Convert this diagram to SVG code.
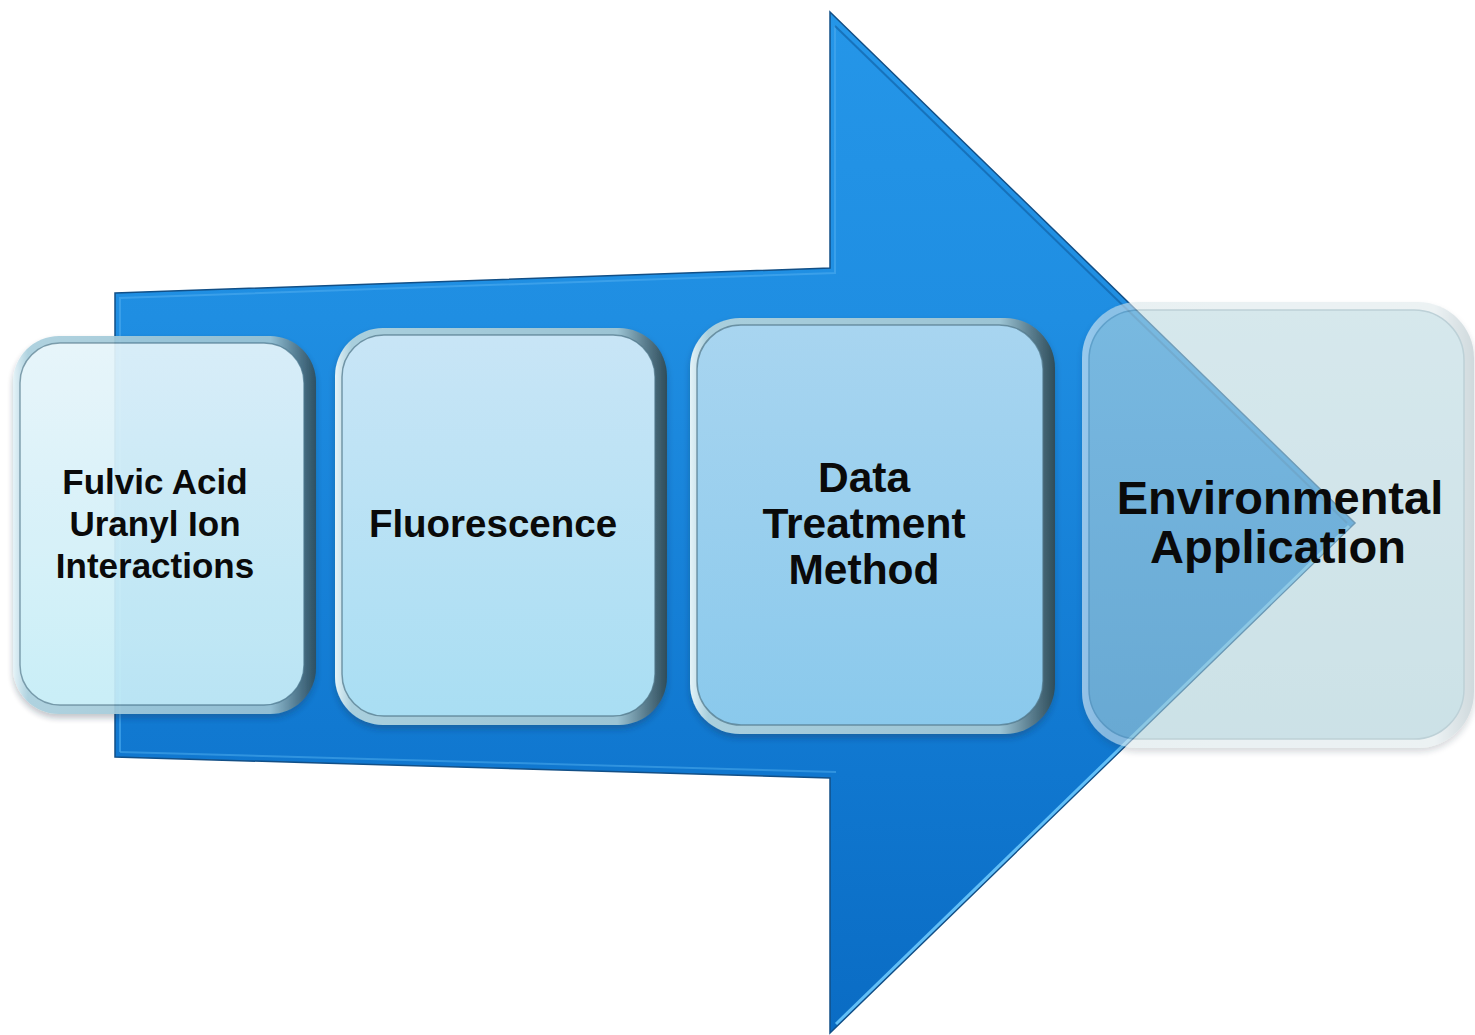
<svg xmlns="http://www.w3.org/2000/svg" width="1475" height="1035" viewBox="0 0 1475 1035">
  <defs>
    <style>
      .label { font-family: "Liberation Sans", Arial, sans-serif; font-weight: bold; fill: #0a0a0a; text-anchor: middle; }
    </style>
    <!-- big process arrow -->
    <linearGradient id="arrowFill" gradientUnits="userSpaceOnUse" x1="0" y1="12" x2="0" y2="1033">
      <stop offset="0" stop-color="#2596e8"/>
      <stop offset="0.3" stop-color="#1f8ee2"/>
      <stop offset="0.7" stop-color="#1179d1"/>
      <stop offset="1" stop-color="#0a6cc4"/>
    </linearGradient>
    <!-- glass tile rims -->
    <linearGradient id="rimDark" x1="0" y1="0" x2="1" y2="0">
      <stop offset="0" stop-color="#e4f3f8"/>
      <stop offset="0.05" stop-color="#a9cfdd"/>
      <stop offset="0.85" stop-color="#9cc4d4"/>
      <stop offset="0.94" stop-color="#56798a"/>
      <stop offset="1" stop-color="#2f4d5a"/>
    </linearGradient>
    <linearGradient id="rimLight" x1="0" y1="0" x2="1" y2="0">
      <stop offset="0" stop-color="#f2f7f8"/>
      <stop offset="0.06" stop-color="#d9e6ea"/>
      <stop offset="0.9" stop-color="#dfe9ec"/>
      <stop offset="1" stop-color="#aebfc5"/>
    </linearGradient>
    <linearGradient id="face1" x1="0" y1="0" x2="0" y2="1">
      <stop offset="0" stop-color="#e6f5fa"/>
      <stop offset="1" stop-color="#c6edf7"/>
    </linearGradient>
    <linearGradient id="face2" x1="0" y1="0" x2="0" y2="1">
      <stop offset="0" stop-color="#c8e5f6"/>
      <stop offset="1" stop-color="#a9def3"/>
    </linearGradient>
    <linearGradient id="face3" x1="0" y1="0" x2="0" y2="1">
      <stop offset="0" stop-color="#a8d5f0"/>
      <stop offset="1" stop-color="#8ac9ec"/>
    </linearGradient>
    <linearGradient id="face4" x1="0" y1="0" x2="0" y2="1">
      <stop offset="0" stop-color="#b9d8e0"/>
      <stop offset="1" stop-color="#a8cdd6"/>
    </linearGradient>
    <filter id="tileShadow" x="-10%" y="-10%" width="120%" height="125%">
      <feDropShadow dx="0" dy="4" stdDeviation="3" flood-color="#203040" flood-opacity="0.3"/>
    </filter>
  </defs>

  <rect width="1475" height="1035" fill="#ffffff"/>

  <!-- process arrow -->
  <g id="connectors">
    <polygon points="115,293 830,268 830,12 1355,523 830,1033 830,778 115,757"
             fill="url(#arrowFill)" stroke="#124f86" stroke-width="1.5" stroke-linejoin="miter"/>
    <polyline points="120,752 120,298 835,273 835,26" fill="none" stroke="#46a6ec" stroke-width="2" opacity="0.7"/>
    <polyline points="835,26 1347,523" fill="none" stroke="#0f5b9e" stroke-width="2" opacity="0.6"/>
    <polyline points="1349,526 836,1024" fill="none" stroke="#62bff7" stroke-width="3"/>
    <polyline points="120,752 836,772" fill="none" stroke="#3f9fe6" stroke-width="2" opacity="0.7"/>
  </g>

  <!-- step 1 -->
  <g id="node-fulvic">
    <g opacity="0.93" filter="url(#tileShadow)">
      <rect x="13" y="336" width="303" height="378" rx="46" fill="url(#rimDark)"/>
      <rect x="20" y="343" width="284" height="362" rx="40" fill="url(#face1)" stroke="#4f7587" stroke-width="1.5" stroke-opacity="0.7"/>
    </g>
    <text class="label" font-size="35" x="155" y="494">Fulvic Acid</text>
    <text class="label" font-size="35" x="155" y="536">Uranyl Ion</text>
    <text class="label" font-size="35" x="155" y="578">Interactions</text>
  </g>

  <!-- step 2 -->
  <g id="node-fluorescence">
    <g filter="url(#tileShadow)">
      <rect x="335" y="328" width="332" height="397" rx="48" fill="url(#rimDark)"/>
      <rect x="342" y="335" width="313" height="381" rx="42" fill="url(#face2)" stroke="#4f7587" stroke-width="1.5" stroke-opacity="0.7"/>
    </g>
    <text class="label" font-size="38.5" x="493" y="537">Fluorescence</text>
  </g>

  <!-- step 3 -->
  <g id="node-data">
    <g filter="url(#tileShadow)">
      <rect x="690" y="318" width="365" height="416" rx="50" fill="url(#rimDark)"/>
      <rect x="697" y="325" width="346" height="400" rx="44" fill="url(#face3)" stroke="#4f7587" stroke-width="1.5" stroke-opacity="0.7"/>
    </g>
    <text class="label" font-size="42.5" x="864" y="492">Data</text>
    <text class="label" font-size="42.5" x="864" y="538">Treatment</text>
    <text class="label" font-size="42.5" x="864" y="584">Method</text>
  </g>

  <!-- step 4 -->
  <g id="node-environmental">
    <g opacity="0.58" filter="url(#tileShadow)">
      <rect x="1082" y="302" width="392" height="446" rx="56" fill="url(#rimLight)"/>
      <rect x="1089" y="310" width="375" height="429" rx="50" fill="url(#face4)" stroke="#8fb0bb" stroke-width="1.5"/>
    </g>
    <text class="label" font-size="47" x="1280" y="514">Environmental</text>
    <text class="label" font-size="47" x="1278" y="563">Application</text>
  </g>
</svg>
